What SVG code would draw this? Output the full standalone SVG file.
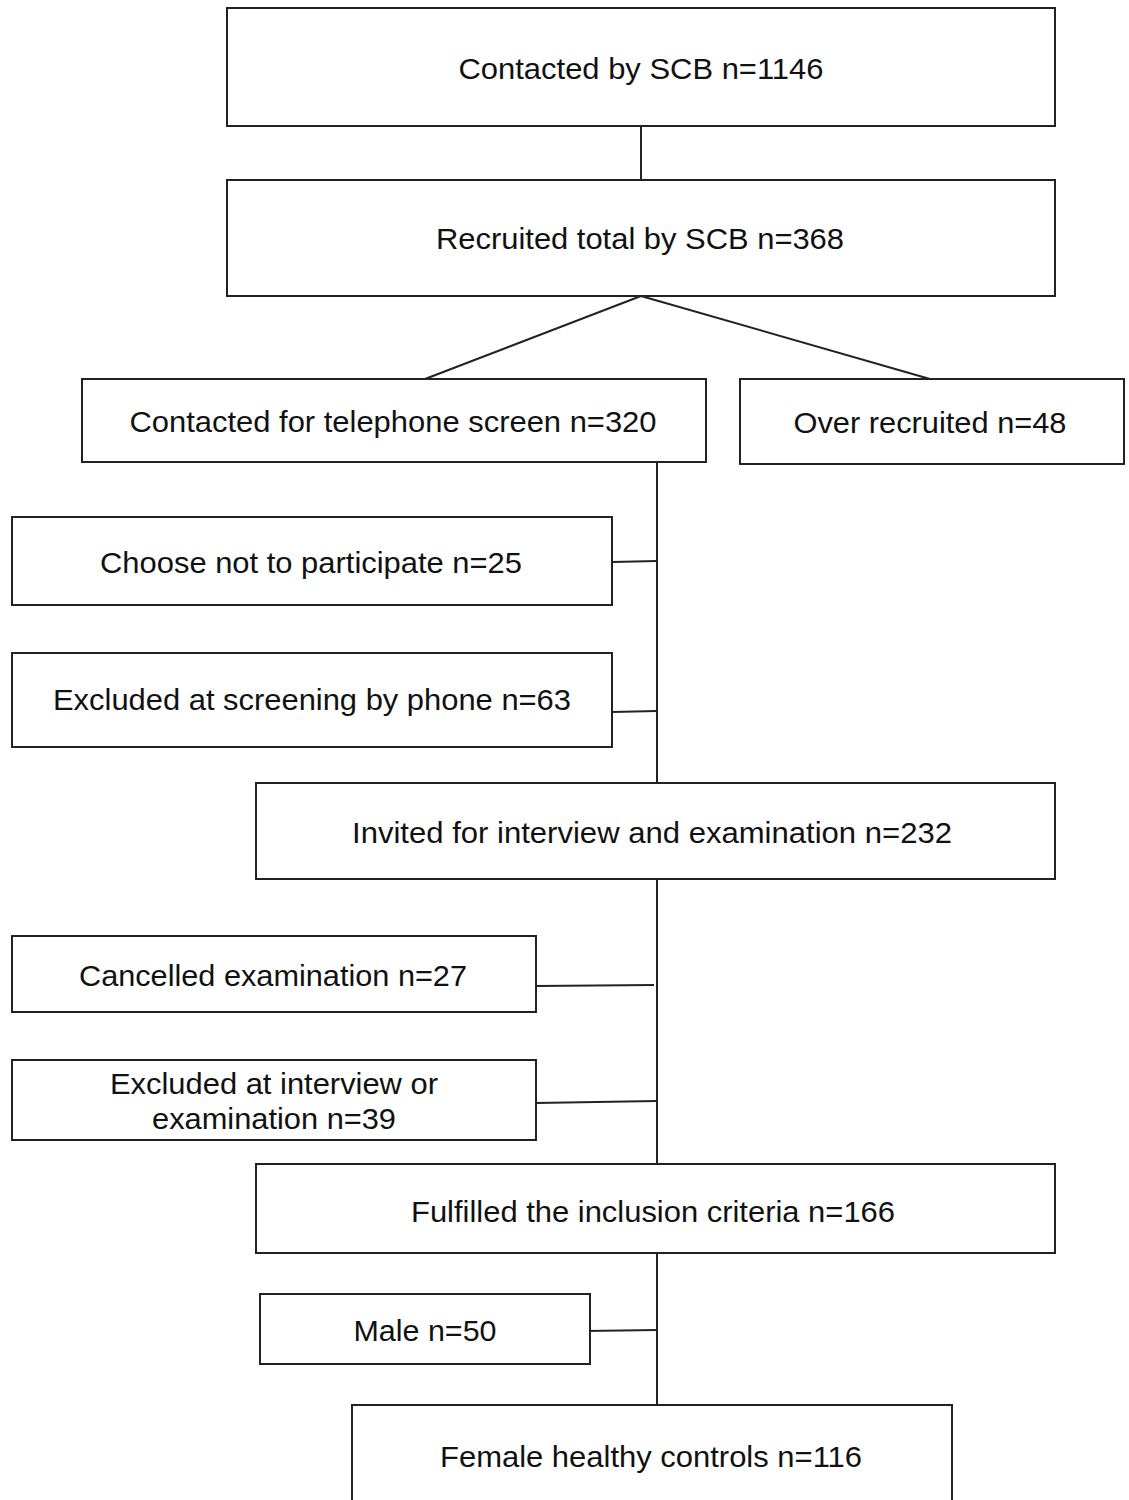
<svg xmlns="http://www.w3.org/2000/svg" width="1129" height="1500" viewBox="0 0 1129 1500">
<style>
.box{fill:#fff;stroke:#222;stroke-width:2}
.lbl{font-family:"Liberation Sans",Arial,sans-serif;font-size:30px;fill:#111;text-anchor:middle}
.conn line{stroke:#222;stroke-width:2;fill:none}
</style>
<rect width="1129" height="1500" fill="#fff"/>
<g class="conn" id="connectors">
<line x1="641" y1="126" x2="641" y2="180"/>
<line x1="641" y1="296" x2="425" y2="379"/>
<line x1="641" y1="296" x2="930" y2="379"/>
<line x1="657" y1="462" x2="657" y2="783"/>
<line x1="612" y1="562" x2="657" y2="561"/>
<line x1="612" y1="712" x2="657" y2="711"/>
<line x1="657" y1="879" x2="657" y2="1164"/>
<line x1="536" y1="986" x2="654" y2="985"/>
<line x1="536" y1="1103" x2="657" y2="1101"/>
<line x1="657" y1="1253" x2="657" y2="1405"/>
<line x1="586" y1="1331" x2="657" y2="1330"/>
</g>
<g id="n1"><rect class="box" x="227" y="8" width="828" height="118"/><text class="lbl" x="641" y="79" textLength="365" lengthAdjust="spacingAndGlyphs">Contacted by SCB n=1146</text></g>
<g id="n2"><rect class="box" x="227" y="180" width="828" height="116"/><text class="lbl" x="640" y="249" textLength="408" lengthAdjust="spacingAndGlyphs">Recruited total by SCB n=368</text></g>
<g id="n3"><rect class="box" x="82" y="379" width="624" height="83"/><text class="lbl" x="393" y="432" textLength="527" lengthAdjust="spacingAndGlyphs">Contacted for telephone screen n=320</text></g>
<g id="n4"><rect class="box" x="740" y="379" width="384" height="85"/><text class="lbl" x="930" y="433" textLength="273" lengthAdjust="spacingAndGlyphs">Over recruited n=48</text></g>
<g id="n5"><rect class="box" x="12" y="517" width="600" height="88"/><text class="lbl" x="311" y="573" textLength="422" lengthAdjust="spacingAndGlyphs">Choose not to participate n=25</text></g>
<g id="n6"><rect class="box" x="12" y="653" width="600" height="94"/><text class="lbl" x="312" y="710" textLength="518" lengthAdjust="spacingAndGlyphs">Excluded at screening by phone n=63</text></g>
<g id="n7"><rect class="box" x="256" y="783" width="799" height="96"/><text class="lbl" x="652" y="843" textLength="600" lengthAdjust="spacingAndGlyphs">Invited for interview and examination n=232</text></g>
<g id="n8"><rect class="box" x="12" y="936" width="524" height="76"/><text class="lbl" x="273" y="986" textLength="388" lengthAdjust="spacingAndGlyphs">Cancelled examination n=27</text></g>
<g id="n9"><rect class="box" x="12" y="1060" width="524" height="80"/><text class="lbl" x="274" y="1094" textLength="328" lengthAdjust="spacingAndGlyphs">Excluded at interview or</text><text class="lbl" x="274" y="1129" textLength="244" lengthAdjust="spacingAndGlyphs">examination n=39</text></g>
<g id="n10"><rect class="box" x="256" y="1164" width="799" height="89"/><text class="lbl" x="653" y="1222" textLength="484" lengthAdjust="spacingAndGlyphs">Fulfilled the inclusion criteria n=166</text></g>
<g id="n11"><rect class="box" x="260" y="1294" width="330" height="70"/><text class="lbl" x="425" y="1341" textLength="143" lengthAdjust="spacingAndGlyphs">Male n=50</text></g>
<g id="n12"><rect class="box" x="352" y="1405" width="600" height="110"/><text class="lbl" x="651" y="1467" textLength="422" lengthAdjust="spacingAndGlyphs">Female healthy controls n=116</text></g>
</svg>
